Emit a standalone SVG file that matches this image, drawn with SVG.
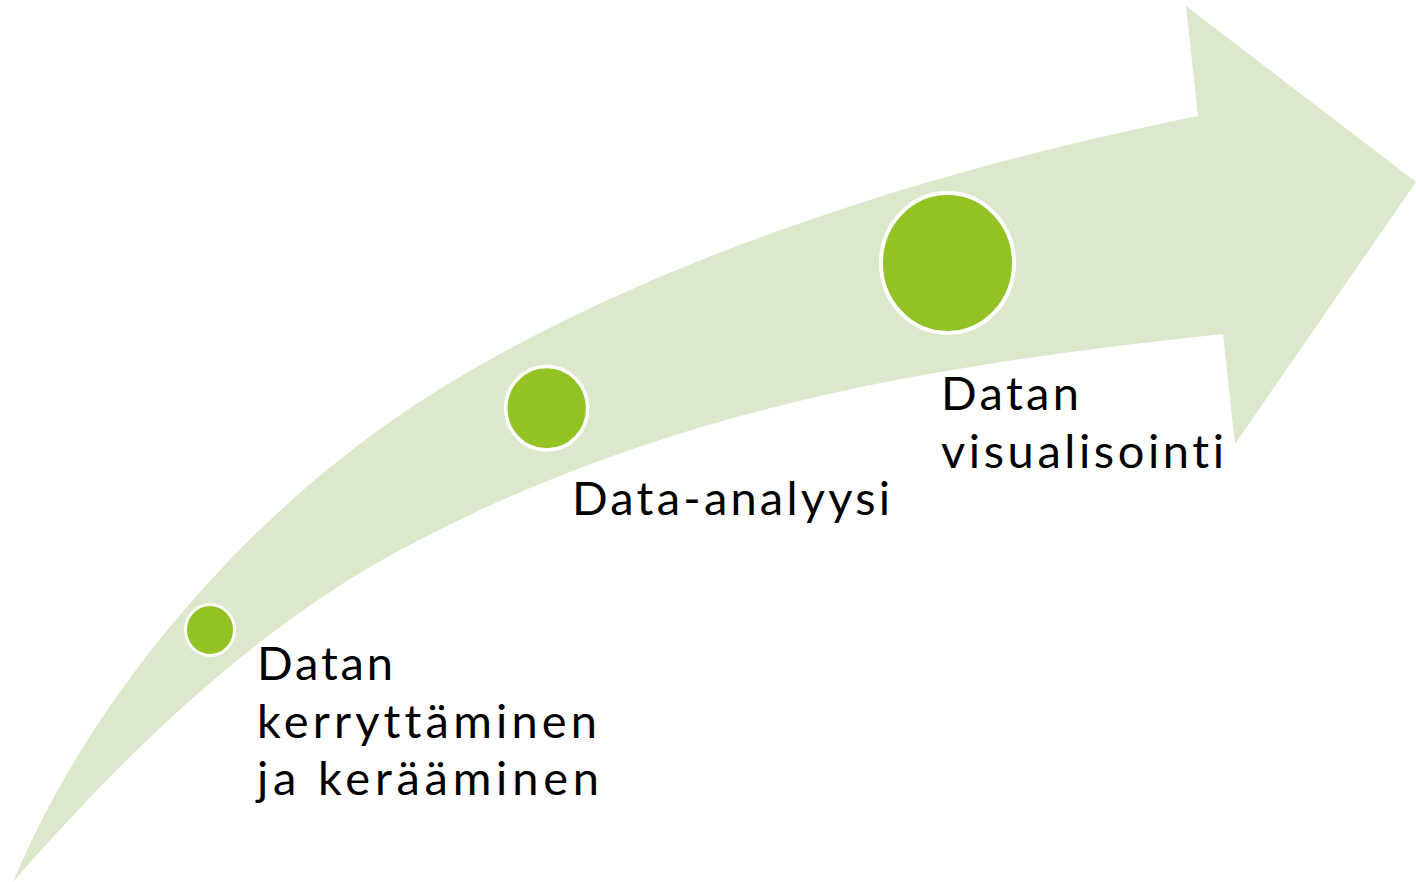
<svg xmlns="http://www.w3.org/2000/svg" width="1416" height="882" viewBox="0 0 1416 882">
  <style>
    .band { fill: #DCE8CB; stroke: none; }
    .dot { fill: #93C225; stroke: #FFFFFF; }
    .lbl { font-family: Lato, "Noto Sans", sans-serif; font-size: 47px; fill: #000000; font-variant-ligatures: none; font-feature-settings: "liga" 0, "clig" 0, "dlig" 0; }
  </style>
  <rect x="0" y="0" width="1416" height="882" fill="#FFFFFF"/>
  <g id="connectors">
    <path id="arrow" class="band" d="M13,882 C93,690 250,517 400,415 C600,279 898,176 1198,116 L1186,6 L1416,182 L1235,444 L1223,334 C943,364 670,405 400,550 C260,625.6 133,744 13,882 Z"/>
  </g>
  <g id="node-kerays">
    <ellipse class="dot" cx="210" cy="630" rx="24.5" ry="25.5" stroke-width="3"/>
    <text class="lbl" x="257" y="680" textLength="136" lengthAdjust="spacing">Datan</text>
    <text class="lbl" x="257" y="738" textLength="340" lengthAdjust="spacing">kerryttäminen</text>
    <text class="lbl" x="257" y="795" textLength="342" lengthAdjust="spacing">ja kerääminen</text>
  </g>
  <g id="node-analyysi">
    <ellipse class="dot" cx="546.7" cy="408.3" rx="41" ry="41.7" stroke-width="3.5"/>
    <text class="lbl" x="572" y="515" textLength="318" lengthAdjust="spacing">Data-analyysi</text>
  </g>
  <g id="node-visualisointi">
    <ellipse class="dot" cx="947.5" cy="263" rx="66.5" ry="70" stroke-width="4"/>
    <text class="lbl" x="941" y="410" textLength="138" lengthAdjust="spacing">Datan</text>
    <text class="lbl" x="941" y="468" textLength="283" lengthAdjust="spacing">visualisointi</text>
  </g>
</svg>
